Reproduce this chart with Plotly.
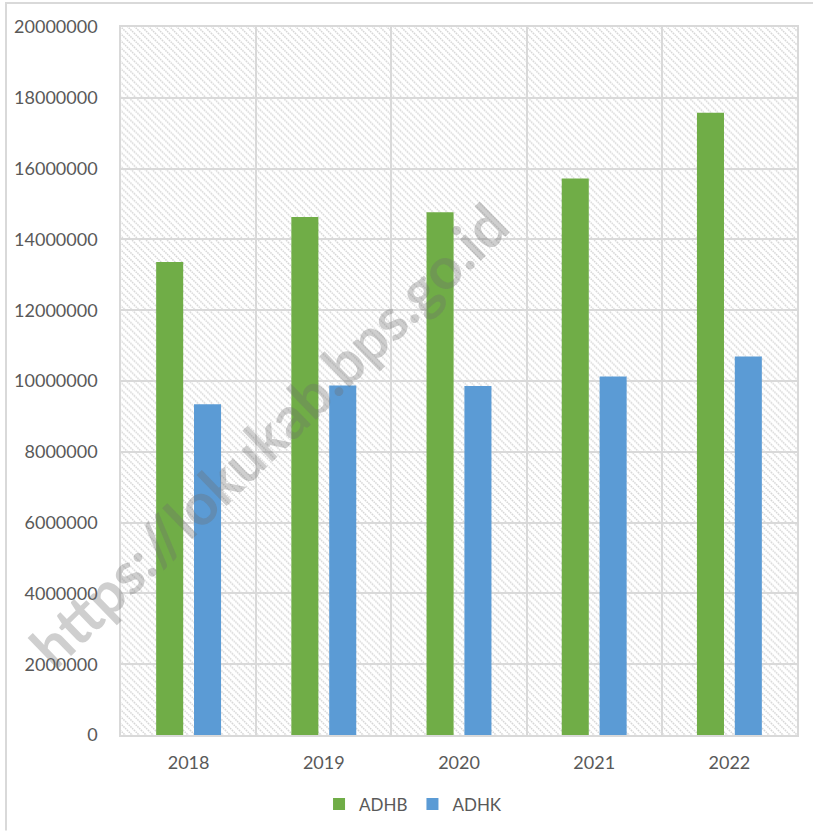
import base64
import plotly.graph_objects as go

years = ["2018", "2019", "2020", "2021", "2022"]
adhb = [13360000, 14630000, 14770000, 15720000, 17580000]
adhk = [9340000, 9870000, 9860000, 10130000, 10690000]
y_ticks = [0, 2000000, 4000000, 6000000, 8000000, 10000000, 12000000,
           14000000, 16000000, 18000000, 20000000]

W, H = 813, 834
ML, MR, MT, MB = 121, 16, 27, 96
PW, PH = W - ML - MR, H - MT - MB

# hatched plot background as an svg pattern image
svg = f'''<svg xmlns="http://www.w3.org/2000/svg" width="{PW}" height="{PH}" viewBox="0 0 {PW} {PH}" preserveAspectRatio="none">
<defs><pattern id="p" width="7" height="7" patternUnits="userSpaceOnUse">
<path d="M-1,-1 L8,8 M-1,6 L1,8 M6,-1 L8,1" stroke="#d6d6d6" stroke-width="1.5" stroke-dasharray="1.6,0.8"/>
</pattern></defs>
<rect width="100%" height="100%" fill="white"/>
<rect width="100%" height="100%" fill="url(#p)"/>
</svg>'''
src = "data:image/svg+xml;base64," + base64.b64encode(svg.encode()).decode()

font = "Lato, 'Open Sans', sans-serif"
txt = "#595959"

fig = go.Figure()
fig.add_trace(go.Bar(x=years, y=adhb, name="ADHB", marker_color="#70ad47",
                     width=0.2, offset=-0.24, marker_line_width=0))
fig.add_trace(go.Bar(x=years, y=adhk, name="ADHK", marker_color="#5b9bd5",
                     width=0.2, offset=0.04, marker_line_width=0))

fig.update_layout(
    width=W, height=H,
    margin=dict(l=ML, r=MR, t=MT, b=MB, pad=0),
    paper_bgcolor="white", plot_bgcolor="white",
    barmode="group",
    font=dict(family=font, size=18, color=txt),
    showlegend=True,
    legend=dict(orientation="h", x=0.432, xanchor="center", y=-0.098, yanchor="middle",
                font=dict(size=17, color=txt), traceorder="normal"),
    images=[dict(source=src, xref="paper", yref="paper", x=0, y=1, sizex=1, sizey=1,
                 xanchor="left", yanchor="top", sizing="stretch", layer="below")],
    shapes=[
        dict(type="line", xref="paper", yref="paper", x0=(5 - ML) / PW, x1=(W - ML) / PW,
             y0=(H - MB - 3) / PH, y1=(H - MB - 3) / PH, line=dict(color="#d9d9d9", width=2)),
        dict(type="line", xref="paper", yref="paper", x0=(6 - ML) / PW, x1=(6 - ML) / PW,
             y0=(H - MB - 3) / PH, y1=-MB / PH, line=dict(color="#d9d9d9", width=2)),
    ],
    annotations=[dict(text="https://lokukab.bps.go.id", xref="paper", yref="paper",
                      x=(268 - ML) / PW, y=(H - MB - 436) / PH, showarrow=False,
                      xanchor="center", yanchor="middle",
                      textangle=-44,
                      font=dict(family="Lato, sans-serif", size=58, color="rgba(110,110,110,0.33)",
                                weight="bold"))],
)
fig.update_xaxes(type="category", range=[-0.5, 4.5], tickson="boundaries",
                 showgrid=True, gridcolor="#d9d9d9", gridwidth=1.5,
                 showline=True, linecolor="#d9d9d9", linewidth=1.5, mirror=True,
                 ticks="", ticklabelstandoff=11, tickfont=dict(size=18, color=txt))
fig.update_yaxes(range=[0, 20000000], tickvals=y_ticks, tickformat="d",
                 showgrid=True, gridcolor="#d9d9d9", gridwidth=1.5,
                 showline=True, linecolor="#d9d9d9", linewidth=1.5, mirror=True,
                 zeroline=False, ticks="", ticklabelstandoff=18,
                 tickfont=dict(size=18, color=txt))

fig.write_html("out.html", config={"displayModeBar": False},
               post_script="document.body.style.margin='0';document.body.style.overflow='hidden';")
